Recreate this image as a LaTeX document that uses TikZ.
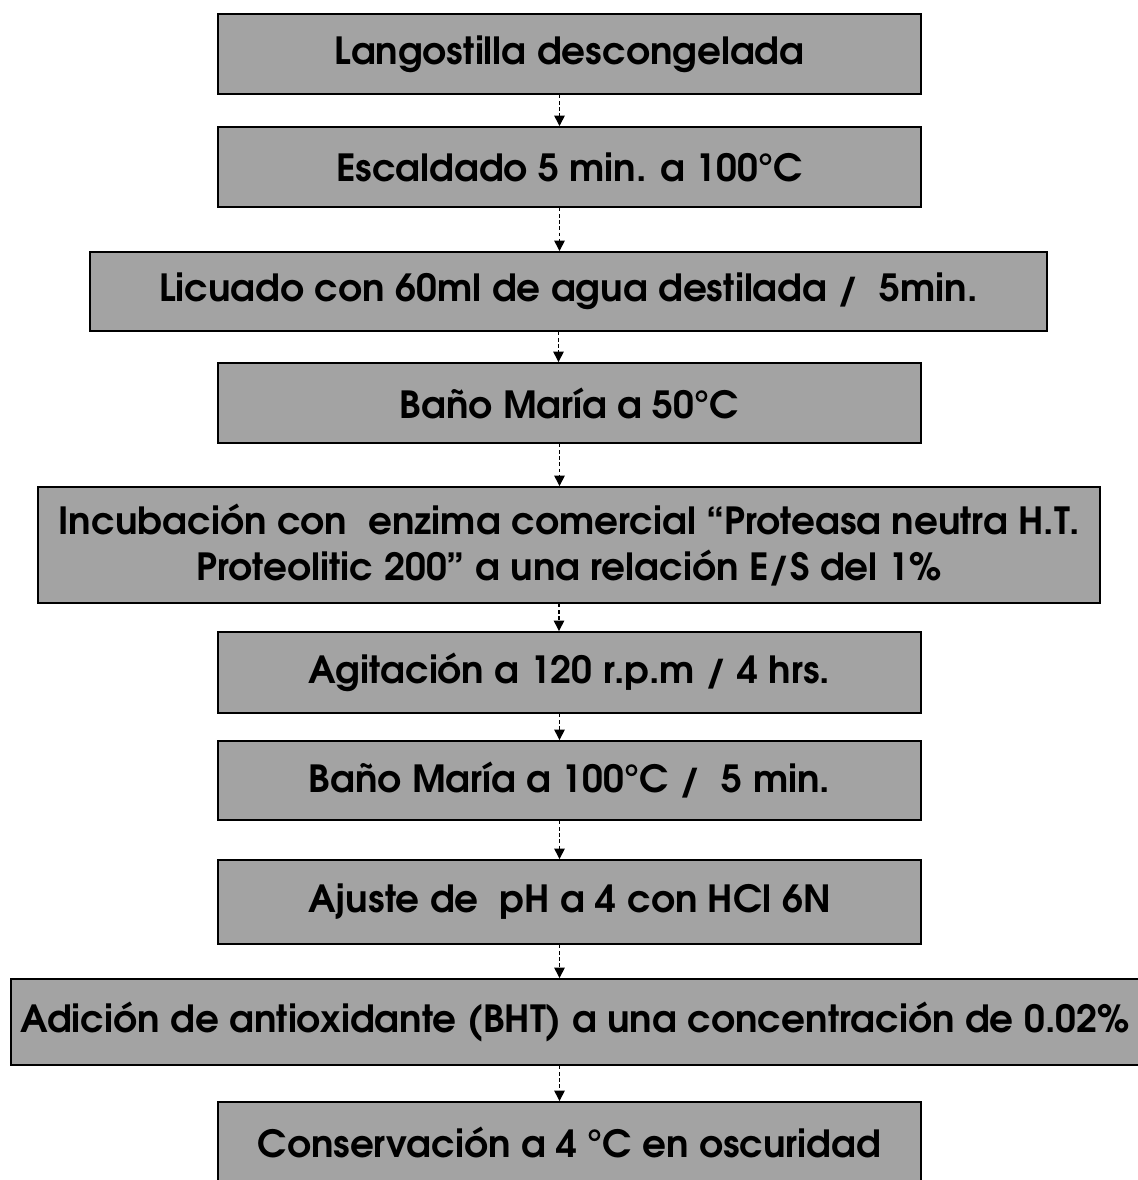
\documentclass[tikz,border=0pt]{standalone}
\usepackage{fontspec}
\setmainfont{texgyreadventor}[Extension=.otf, UprightFont=*-regular, BoldFont=*-bold]
\usetikzlibrary{arrows.meta}

\begin{document}
\begin{tikzpicture}[x=0.02cm, y=-0.02cm,
  stage/.style={draw, line width=1.1pt, fill=black!36, inner sep=0,
    align=center, font=\bfseries\fontsize{21.3}{26.5}\selectfont},
  flow/.style={dash pattern=on 2pt off 1.5pt, line width=0.8pt,
    -{Triangle[width=6pt, length=6pt]}}]

\useasboundingbox (0,0) rectangle (1137,1180);

\node [stage, minimum width=14.06cm, minimum height=1.6cm] (b1) at (569.5,54) {Langostilla descongelada};
\node [stage, minimum width=14.06cm, minimum height=1.6cm] (b2) at (569.5,167) {Escaldado 5 min. a 100°C};
\node [stage, minimum width=19.14cm, minimum height=1.58cm] (b3) at (568.5,291.5) {Licuado con 60ml de agua destilada /\ \ 5min.};
\node [stage, minimum width=14.06cm, minimum height=1.6cm] (b4) at (569.5,403) {Baño María a 50°C};
\node [stage, minimum width=21.24cm, minimum height=2.32cm] (b5) at (569,545) {Incubación con\ \ enzima comercial “Proteasa neutra H.T.\\ Proteolitic 200” a una relación E/S del 1\%};
\node [stage, minimum width=14.06cm, minimum height=1.62cm] (b6) at (569.5,672.5) {Agitación a 120 r.p.m / 4 hrs.};
\node [stage, minimum width=14.06cm, minimum height=1.58cm] (b7) at (569.5,780.5) {Baño María a 100°C /\ \ 5 min.};
\node [stage, minimum width=14.06cm, minimum height=1.68cm] (b8) at (569.5,902) {Ajuste de\ \ pH a 4 con HCl 6N};
\node [stage, minimum width=22.56cm, minimum height=1.72cm] (b9) at (575,1022) {Adición de antioxidante (BHT) a una concentración de 0.02\%};
\node [stage, minimum width=14.06cm, minimum height=1.6cm] (b10) at (569.5,1142) {Conservación a 4 °C en oscuridad};

\draw [flow] ([xshift=-0.2cm]b1.south) -- ([xshift=-0.2cm]b1.south |- b2.north);
\draw [flow] ([xshift=-0.2cm]b2.south) -- ([xshift=-0.2cm]b2.south |- b3.north);
\draw [flow] ([xshift=-0.2cm]b3.south) -- ([xshift=-0.2cm]b3.south |- b4.north);
\draw [flow] ([xshift=-0.2cm]b4.south) -- ([xshift=-0.2cm]b4.south |- b5.north);
\draw [flow] ([xshift=-0.2cm]b5.south) -- ([xshift=-0.2cm]b5.south |- b6.north);
\draw [flow] ([xshift=-0.2cm]b6.south) -- ([xshift=-0.2cm]b6.south |- b7.north);
\draw [flow] ([xshift=-0.2cm]b7.south) -- ([xshift=-0.2cm]b7.south |- b8.north);
\draw [flow] ([xshift=-0.2cm]b8.south) -- ([xshift=-0.2cm]b8.south |- b9.north);
\draw [flow] ([xshift=-0.2cm]b9.south -| b8.south) -- ([xshift=-0.2cm]b8.south |- b10.north);

\end{tikzpicture}
\end{document}
